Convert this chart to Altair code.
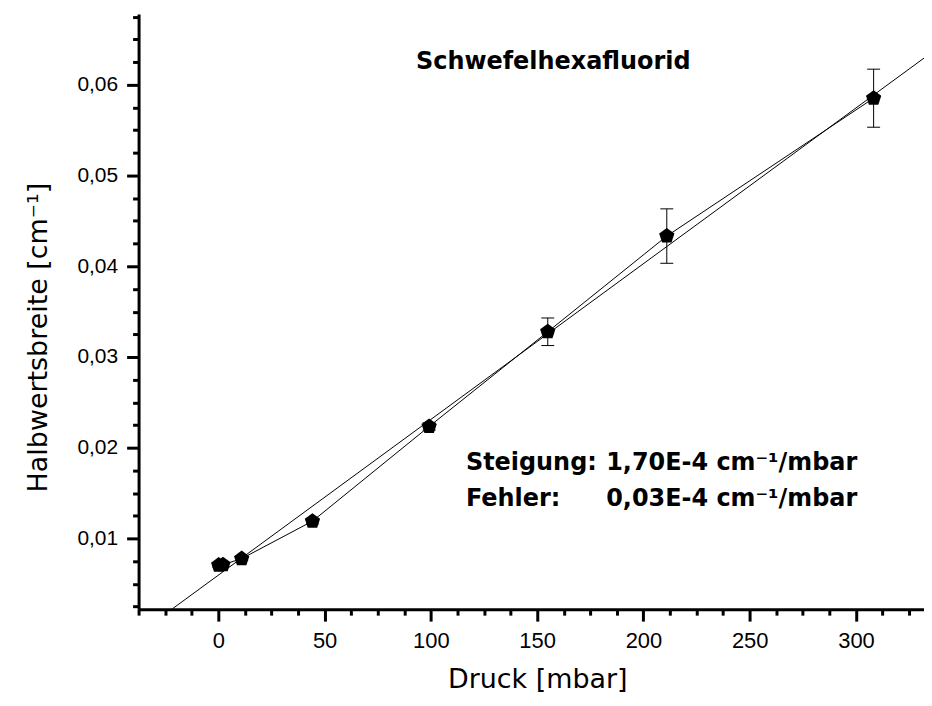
import altair as alt
import pandas as pd

# ---- data ----
druck = [0.2, 2.2, 11.0, 44.3, 99.2, 155.0, 211.0, 308.3]            # mbar
breite = [0.00705, 0.00710, 0.00777, 0.0119, 0.02234, 0.03278, 0.04333, 0.05853]  # cm^-1
fehler = [0.0002, 0.0002, 0.0002, 0.0003, 0.0004, 0.00152, 0.0030, 0.0032]

fit_druck = [-21.8, 332.0]
fit_breite = [0.0022, 0.06295]

title_text = ["Schwefelhexafluorid"]
title_x = [157.6]
title_y = [0.06175]

stat_labels = ["Steigung:", "Fehler:"]
stat_values = ["1,70E-4 cm\u207b\u00b9/mbar", "0,03E-4 cm\u207b\u00b9/mbar"]
stat_label_x = [116.5, 116.5]
stat_value_x = [182.5, 182.5]
stat_y = [0.01751, 0.01355]

X_DOMAIN = [-37.5, 332.0]
Y_DOMAIN = [0.0022, 0.0678]
x_ticks = [-37.5 + 12.5 * i for i in range(30)]
y_ticks = [0.0025 * k for k in range(1, 28)]

# ---- tables ----
df = pd.DataFrame({"druck": druck, "breite": breite, "fehler": fehler})
df["lo"] = df["breite"] - df["fehler"]
df["hi"] = df["breite"] + df["fehler"]
fit_df = pd.DataFrame({"druck": fit_druck, "breite": fit_breite})
title_df = pd.DataFrame({"druck": title_x, "breite": title_y, "t": title_text})
lab_df = pd.DataFrame({"druck": stat_label_x, "breite": stat_y, "t": stat_labels})
val_df = pd.DataFrame({"druck": stat_value_x, "breite": stat_y, "t": stat_values})

x_scale = alt.Scale(domain=X_DOMAIN, nice=False, zero=False)
y_scale = alt.Scale(domain=Y_DOMAIN, nice=False, zero=False)

x_major = "abs(datum.value % 50) < 0.001"
y_major = "round(datum.value * 400) % 4 === 0"

x_axis = alt.Axis(
    values=x_ticks,
    labelExpr=f"{x_major} ? format(datum.value, 'd') : ''",
    tickSize={"condition": {"test": x_major, "value": 12}, "value": 6},
    tickWidth=3, tickColor="black",
    domainWidth=3, domainColor="black",
    labelFont="Liberation Sans", labelFontSize=22, labelColor="black",
    labelPadding=9, labelFlush=False, labelOverlap=False,
    grid=False,
    title="Druck [mbar]", titleFont="DejaVu Sans", titleFontSize=27,
    titleFontWeight="normal", titleColor="black",
    titleX=400, titleY=79, titleBaseline="alphabetic", titleAlign="center",
)
y_axis = alt.Axis(
    values=y_ticks,
    labelExpr=f"{y_major} ? replace(format(datum.value, '.2f'), '.', ',') : ''",
    tickSize={"condition": {"test": y_major, "value": 12}, "value": 6},
    tickWidth=3, tickColor="black",
    domainWidth=3, domainColor="black",
    labelFont="Liberation Sans", labelFontSize=21, labelColor="black",
    labelPadding=9, labelFlush=False, labelOverlap=False,
    grid=False,
    title="Halbwertsbreite [cm\u207b\u00b9]", titleFont="DejaVu Sans", titleFontSize=27,
    titleFontWeight="normal", titleColor="black",
    titleAngle=270, titleX=-92, titleY=324, titleBaseline="alphabetic", titleAlign="center",
)

X = alt.X("druck:Q", scale=x_scale, axis=x_axis)
Y = alt.Y("breite:Q", scale=y_scale, axis=y_axis)

PENTA = "M0,-1L0.951,-0.309L0.588,0.809L-0.588,0.809L-0.951,-0.309Z"

fit = alt.Chart(fit_df).mark_line(color="black", strokeWidth=1, clip=True).encode(x=X, y=Y)
conn = alt.Chart(df).mark_line(color="black", strokeWidth=1).encode(x=X, y=Y)
err = alt.Chart(df).mark_rule(color="black", strokeWidth=1).encode(
    x=X, y=alt.Y("lo:Q", scale=y_scale, axis=y_axis), y2="hi:Q"
)
caps = alt.Chart(df).transform_fold(["lo", "hi"]).mark_tick(
    color="black", orient="horizontal", size=13, thickness=1, opacity=1
).encode(x=X, y=alt.Y("value:Q", scale=y_scale, axis=y_axis))
pts = alt.Chart(df).mark_point(
    shape=PENTA, size=260, filled=True, color="black", opacity=1
).encode(x=X, y=Y)

txt_style = dict(baseline="alphabetic", font="DejaVu Sans", fontWeight="bold",
                 fontSize=24, color="black")
title = alt.Chart(title_df).mark_text(align="center", **txt_style).encode(x=X, y=Y, text="t:N")
labs = alt.Chart(lab_df).mark_text(align="left", **txt_style).encode(x=X, y=Y, text="t:N")
vals = alt.Chart(val_df).mark_text(align="left", **txt_style).encode(x=X, y=Y, text="t:N")

chart = alt.layer(fit, conn, err, caps, pts, title, labs, vals).properties(
    width=788,
    height=597,
    padding={"left": 131, "top": 5, "right": 0, "bottom": 83},
    autosize=alt.AutoSizeParams(type="none"),
    background="white",
).configure_view(stroke=None)

chart.save("out.html", embed_options={"renderer": "svg", "actions": False})
